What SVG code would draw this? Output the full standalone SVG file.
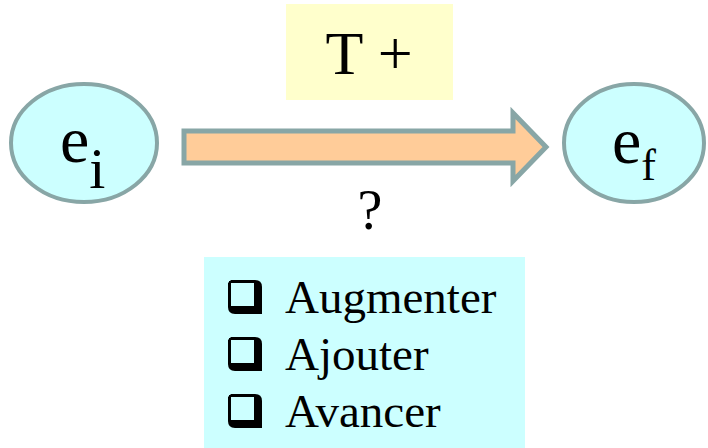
<svg xmlns="http://www.w3.org/2000/svg" width="708" height="448" viewBox="0 0 708 448">
  <defs>
    <style>
      .state { fill: #ccffff; stroke: #88a6a6; stroke-width: 4; }
      .serif { font-family: "Liberation Serif", "Times New Roman", serif; fill: #000; }
      .box-shadow { fill: #000; }
    </style>
    <!-- shadowed square bullet -->
    <g id="check">
      <path class="box-shadow" d="M3,0 H27 Q34,0 34,7 V34 H7 Q0,34 0,27 V3 Z"/>
      <rect x="2" y="2" width="25" height="25" fill="#ccffff" stroke="#000" stroke-width="2"/>
    </g>
  </defs>

  <rect width="708" height="448" fill="#ffffff"/>

  <!-- label above the transition -->
  <g id="label-t">
    <rect x="286" y="4" width="167" height="96" fill="#ffffcc"/>
    <text class="serif" x="369" y="74" font-size="62" text-anchor="middle">T +</text>
  </g>

  <!-- initial state -->
  <g id="state-ei">
    <ellipse class="state" cx="84" cy="143" rx="73" ry="59"/>
    <text class="serif" x="60" y="162" font-size="66">e<tspan font-size="58" dy="26">i</tspan></text>
  </g>

  <!-- final state -->
  <g id="state-ef">
    <ellipse class="state" cx="634" cy="143" rx="70" ry="59"/>
    <text class="serif" x="612" y="163" font-size="66">e<tspan font-size="44" dy="17">f</tspan></text>
  </g>

  <!-- transition -->
  <g id="connectors">
    <polygon points="184,131 513,131 513,113 546,147 513,181 513,163 184,163" fill="#ffcc99" stroke="#88a6a6" stroke-width="5" stroke-linejoin="miter"/>
    <text class="serif" x="370" y="229" font-size="56" text-anchor="middle">?</text>
  </g>

  <!-- list of candidate meanings -->
  <g id="options">
    <rect x="204" y="257" width="321" height="191" fill="#ccffff"/>
    <use href="#check" x="228" y="280"/>
    <use href="#check" x="228" y="337"/>
    <use href="#check" x="228" y="394"/>
    <text class="serif" x="285" y="313" font-size="47">Augmenter</text>
    <text class="serif" x="285" y="370" font-size="47">Ajouter</text>
    <text class="serif" x="285" y="427" font-size="47">Avancer</text>
  </g>
</svg>
